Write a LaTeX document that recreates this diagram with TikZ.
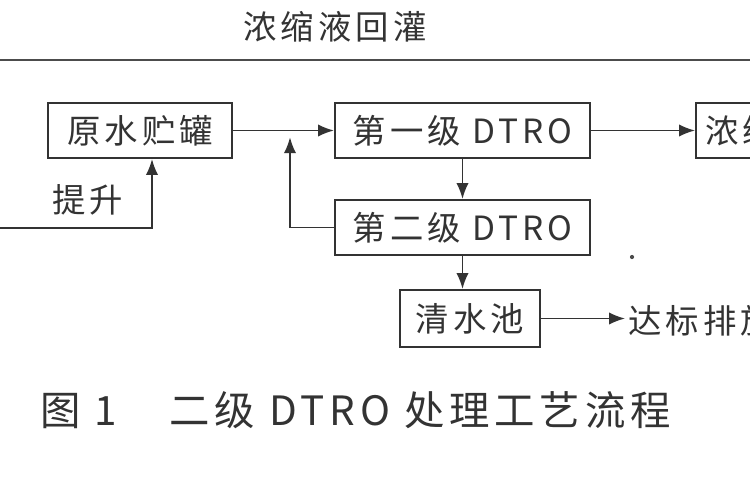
\documentclass[tikz,border=0pt]{standalone}
\usepackage{fontspec}
\setmainfont{Noto Sans CJK SC}[LetterSpace=12]
\usetikzlibrary{arrows.meta}
\begin{document}
\begin{tikzpicture}[x=0.02cm,y=-0.02cm,
  box/.style={draw=black!80,line width=1.2pt,minimum height=55*0.02cm,inner sep=0pt,font=\fontsize{19}{20}\selectfont,text=black!80},
  conn/.style={draw=black!80,line width=1pt,-{Latex[length=9pt,width=7pt]}},
  txt/.style={font=\fontsize{19}{20}\selectfont,text=black!80,inner sep=0pt}]
\useasboundingbox (0,0) rectangle (750,500);
\clip (0,0) rectangle (750,500);
\node[txt,font=\fontsize{19}{20}\selectfont] (title) at (335,27) {浓缩液回灌};
\draw[black!70,line width=1.3pt] (0,60) -- (750,60);
\node[box,minimum width=184*0.02cm] (raw) at (140,130.5) {原水贮罐};
\node[box,minimum width=255*0.02cm] (s1) at (462.5,130.5) {第一级 DTRO};
\node[box,minimum width=120*0.02cm,anchor=west] (conc) at (695,130.5) {\hspace*{4pt}浓缩液};
\node[box,minimum width=255*0.02cm] (s2) at (462.5,227.5) {第二级 DTRO};
\node[box,minimum width=140*0.02cm,minimum height=57*0.02cm] (clean) at (470,318.5) {清水池};
\coordinate (in) at (0,228);
\coordinate (turn) at (152,228);
\coordinate (j) at (290,132);
\coordinate (out) at (625,318.5);
\draw[conn] (raw.east) -- (s1.west);
\draw[conn] (s1.east) -- (conc.west);
\draw[conn] (s1.south) -- (s2.north);
\draw[conn] (s2.south) -- (s2.south |- clean.north);
\draw[conn] (s2.west) -| ([yshift=-3pt]j);
\draw[conn] (in) -- (turn) -- (turn |- raw.south);
\node[txt] (lift) at (88,200) {提升};
\draw[conn] (clean.east) -- (out);
\node[txt,anchor=west] (dis) at (628,321) {达标排放};
\fill[black!70] (632,257) circle (1.2pt);
\node[txt,anchor=west,font=\fontsize{23}{24}\selectfont] (cap) at (40,410) {图 1\hspace{1.3em}二级 DTRO 处理工艺流程};
\end{tikzpicture}
\end{document}
